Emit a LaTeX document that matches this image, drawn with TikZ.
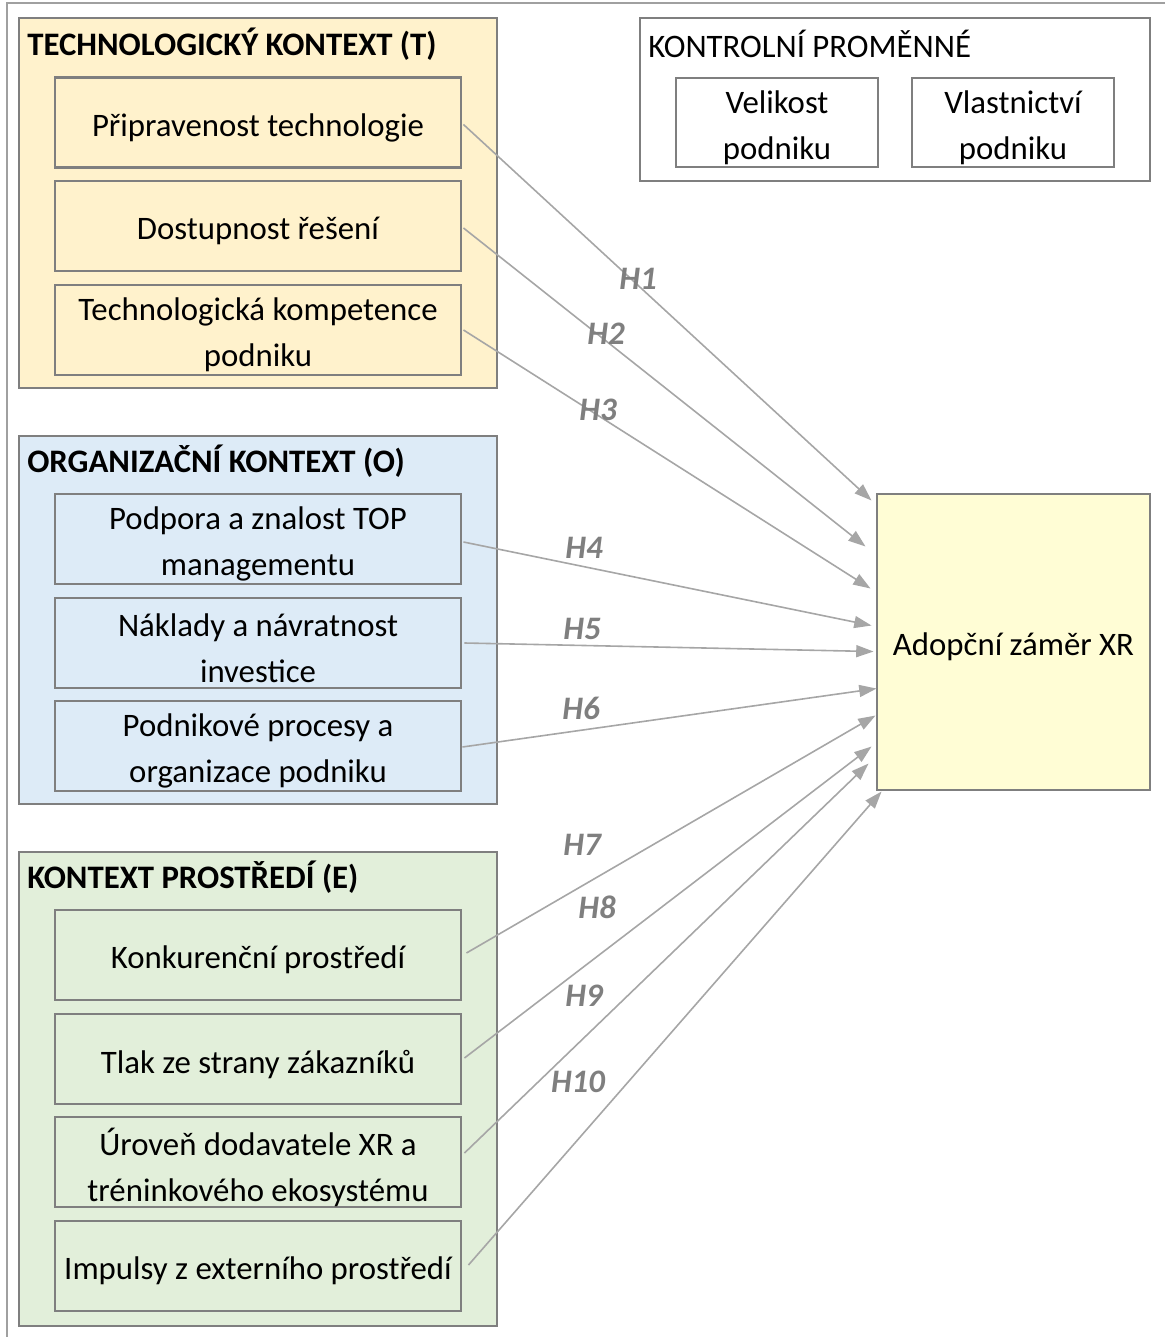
\documentclass[tikz,border=0pt]{standalone}
\usepackage{fontspec}
\setmainfont{Carlito}
\usetikzlibrary{arrows.meta,fit}
\definecolor{framegray}{HTML}{A0A0A0}
\definecolor{boxgray}{HTML}{7F7F7F}
\definecolor{arrowgray}{HTML}{A6A6A6}
\definecolor{labelgray}{HTML}{7F7F7F}
\definecolor{techfill}{HTML}{FFF2CC}
\definecolor{orgfill}{HTML}{DDEBF7}
\definecolor{envfill}{HTML}{E2EFDA}
\definecolor{xrfill}{HTML}{FFFDD5}
\begin{document}
\begin{tikzpicture}[x=0.75pt,y=-0.75pt,
  every node/.style={font=\fontsize{24.6}{34.5}\selectfont, text=black},
  group/.style={draw=boxgray, line width=2.2pt, inner sep=0pt},
  item/.style={draw=boxgray, line width=2.2pt, inner sep=0pt,
    minimum width=304.5pt, minimum height=67.5pt},
  ctrlitem/.style={item, minimum width=151.5pt, minimum height=66.75pt},
  itemtext/.style={inner sep=0pt, align=center, yshift=-3.8pt},
  grouptitle/.style={anchor=west, inner sep=0pt, font=\fontsize{24.6}{34.5}\selectfont\bfseries},
  hyp/.style={draw=arrowgray, line width=1.2pt, -{Triangle[length=13pt,width=9pt]}},
  hlabel/.style={text=labelgray, inner sep=0pt, font=\fontsize{24.6}{28}\selectfont\bfseries\itshape}
]
\useasboundingbox (0,0) rectangle (1165,1337);

% outer frame (top and left edges)
\draw[framegray, line width=1.5pt] (7,1337) -- (7,3) -- (1165,3);

% context groups
\node[group, fill=techfill, fit={(19,18) (497,388)}] (tgrp) {};
\node[group, fill=orgfill, fit={(19,436) (497,804)}] (ogrp) {};
\node[group, fill=envfill, fit={(19,852) (497,1326)}] (egrp) {};

\node[grouptitle] (ttitle) at (27,44) {TECHNOLOGICKÝ KONTEXT (T)};
\node[grouptitle] (otitle) at (27,461) {ORGANIZAČNÍ KONTEXT (O)};
\node[grouptitle] (etitle) at (27,877) {KONTEXT PROSTŘEDÍ (E)};

% factor boxes
\node[item] (t1) at (258,122.5) {};
\node[item] (t2) at (258,226) {};
\node[item] (t3) at (258,330) {};
\node[item] (o1) at (258,539) {};
\node[item] (o2) at (258,643) {};
\node[item] (o3) at (258,746) {};
\node[item] (e1) at (258,955) {};
\node[item] (e2) at (258,1059) {};
\node[item] (e3) at (258,1162) {};
\node[item] (e4) at (258,1266) {};

% factor captions
\node[itemtext] (t1l) at (t1.center) {Připravenost technologie};
\node[itemtext] (t2l) at (t2.center) {Dostupnost řešení};
\node[itemtext] (t3l) at (t3.center) {Technologická kompetence\\podniku};
\node[itemtext] (o1l) at (o1.center) {Podpora a znalost TOP\\managementu};
\node[itemtext] (o2l) at (o2.center) {Náklady a návratnost\\investice};
\node[itemtext] (o3l) at (o3.center) {Podnikové procesy a\\organizace podniku};
\node[itemtext] (e1l) at (e1.center) {Konkurenční prostředí};
\node[itemtext] (e2l) at (e2.center) {Tlak ze strany zákazníků};
\node[itemtext] (e3l) at (e3.center) {Úroveň dodavatele XR a\\tréninkového ekosystému};
\node[itemtext] (e4l) at (e4.center) {Impulsy z externího prostředí};

% control variables
\node[group, fit={(640,18) (1150,181)}] (ctrl) {};
\node[anchor=west, inner sep=0pt] (ctitle) at (648,44) {KONTROLNÍ PROMĚNNÉ};
\node[ctrlitem] (c1) at (777,122.5) {};
\node[ctrlitem] (c2) at (1013,122.5) {};
\node[itemtext] (c1l) at (c1.center) {Velikost\\podniku};
\node[itemtext] (c2l) at (c2.center) {Vlastnictví\\podniku};

% dependent variable
\node[item, fill=xrfill, minimum width=204.75pt, minimum height=222pt] (xr) at (1013.5,642) {};
\node[itemtext] (xrl) at (xr.center) {Adopční záměr XR};

% hypotheses
\draw[hyp] ([shift={(1,2)}]t1.east) -- ([shift={(-4,8)}]xr.north west);
\draw[hyp] ([shift={(1,2)}]t2.east) -- ([shift={(-10,54)}]xr.north west);
\draw[hyp] ([shift={(1,0)}]t3.east) -- ([shift={(-5,96)}]xr.north west);
\draw[hyp] ([shift={(1,3)}]o1.east) -- ([shift={(-4,133)}]xr.north west);
\draw[hyp] ([shift={(2,0)}]o2.east) -- ([shift={(-2,159)}]xr.north west);
\draw[hyp] ([shift={(0,1)}]o3.east) -- ([shift={(1,196)}]xr.north west);
\draw[hyp] ([shift={(4,-2)}]e1.east) -- ([shift={(0,223)}]xr.north west);
\draw[hyp] ([shift={(2,-1)}]e2.east) -- ([shift={(-4,254)}]xr.north west);
\draw[hyp] ([shift={(2,-9)}]e3.east) -- ([shift={(-7,271)}]xr.north west);
\draw[hyp] ([shift={(6,-1)}]e4.east) -- ([shift={(6,299)}]xr.north west);

\node[hlabel] (h1) at (638,279) {H1};
\node[hlabel] (h2) at (606,334) {H2};
\node[hlabel] (h3) at (598,410) {H3};
\node[hlabel] (h4) at (584,548) {H4};
\node[hlabel] (h5) at (582,629) {H5};
\node[hlabel] (h6) at (581,708) {H6};
\node[hlabel] (h7) at (582,845) {H7};
\node[hlabel] (h8) at (597,907) {H8};
\node[hlabel] (h9) at (584,996) {H9};
\node[hlabel] (h10) at (578,1082) {H10};
\end{tikzpicture}
\end{document}
